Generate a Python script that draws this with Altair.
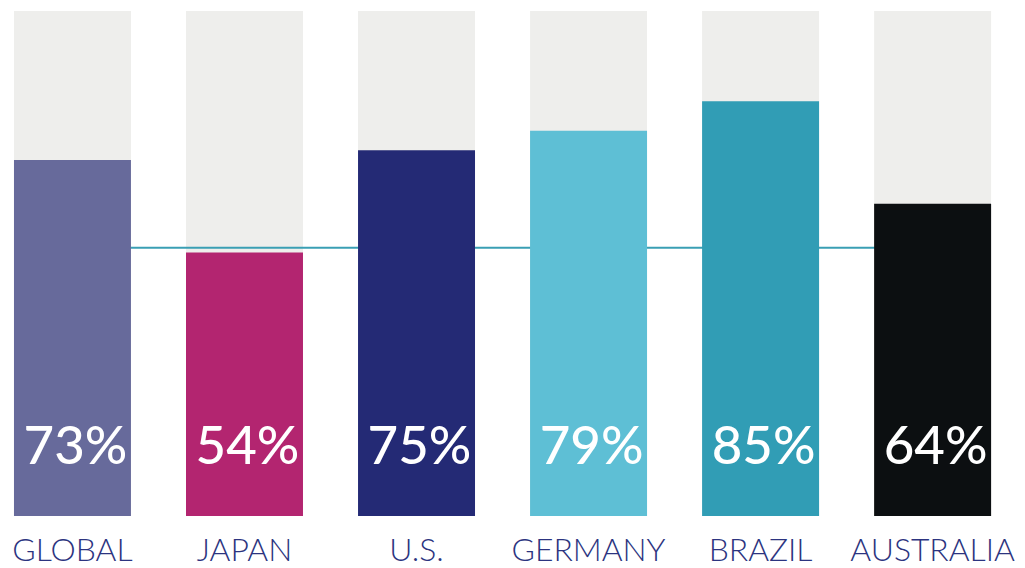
import altair as alt
import pandas as pd

countries = ["GLOBAL", "JAPAN", "U.S.", "GERMANY", "BRAZIL", "AUSTRALIA"]
values = [73, 54, 75, 79, 85, 64]
colors = ["#676a9b", "#b32570", "#242a75", "#5ebfd5", "#319db5", "#0c0f11"]
full_value = [103.5] * 6
reference_value = 55
reference_span = ["GLOBAL", "AUSTRALIA"]

df = pd.DataFrame({
    "country": countries,
    "value": values,
    "full": full_value,
    "label": [f"{v}%" for v in values],
})
ref_df = pd.DataFrame({"x": [reference_span[0]], "x2": [reference_span[1]], "y": [reference_value]})

xscale = alt.Scale(domain=countries, paddingInner=0.32, paddingOuter=0, round=False)
xenc = alt.X("country:N", scale=xscale, sort=None,
             axis=alt.Axis(title=None, domain=False, ticks=False, labelAngle=0,
                           labelFontSize=32, labelFont="Lato", labelFontWeight=300,
                           labelColor="#2c3480",
                           labelPadding=45, labelBaseline="alphabetic"))
yscale = alt.Scale(domain=[0, 103.5], nice=False, zero=True)

grey = alt.Chart(df).mark_bar(color="#eeeeec").encode(
    x=xenc,
    y=alt.Y("full:Q", scale=yscale, axis=None),
)

ref = alt.Chart(ref_df).mark_rule(color="#3a9fb4", strokeWidth=2).encode(
    x=alt.X("x:N", scale=xscale, sort=None),
    x2="x2:N",
    y=alt.Y("y:Q", scale=yscale),
)

bars = alt.Chart(df).mark_bar().encode(
    x=alt.X("country:N", scale=xscale, sort=None),
    y=alt.Y("value:Q", scale=yscale),
    color=alt.Color("country:N", scale=alt.Scale(domain=countries, range=colors), legend=None),
)

labels = alt.Chart(df).mark_text(color="white", fontSize=53, font="Lato", fontWeight=500,
                                 baseline="alphabetic", dy=-52, dx=3).encode(
    x=alt.X("country:N", scale=xscale, sort=None),
    y=alt.datum(0),
    text="label:N",
)

chart = alt.layer(grey, ref, bars, labels).properties(
    width=981, height=507,
    padding={"left": 6, "top": 2, "right": 26, "bottom": 52},
    autosize=alt.AutoSizeParams(type="none"),
).configure_view(stroke=None)

chart.save("out.html", embed_options={"renderer": "svg", "actions": False})
